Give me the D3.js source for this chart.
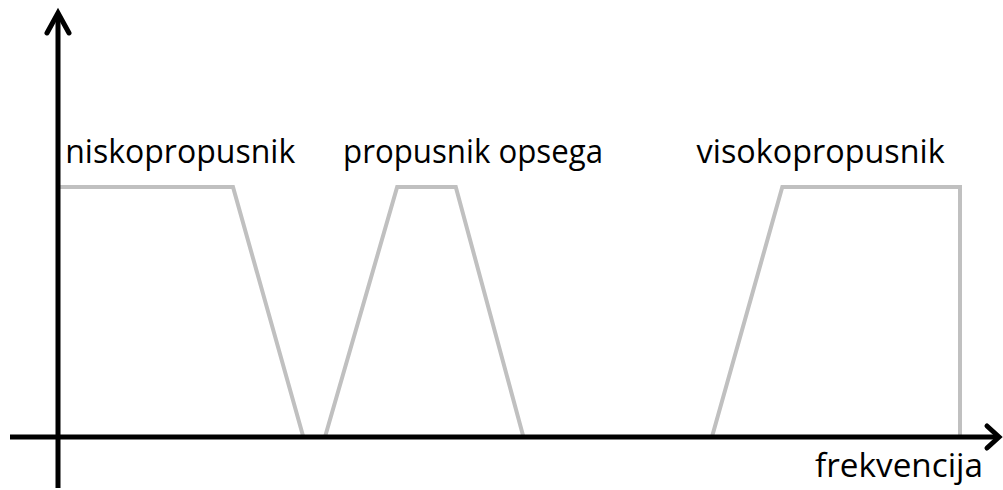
<!DOCTYPE html>
<html><head><meta charset="utf-8">
<script src="https://cdn.jsdelivr.net/npm/d3@7"></script>
<style>body{margin:0;background:#fff}svg{display:block}</style>
</head><body>
<svg id="c" width="1003" height="490"></svg>
<script>
// Filter responses (frequency in arbitrary units, gain 0..1)
const lowpassX = [0, 19.4, 27.2];
const lowpassY = [1, 1, 0];
const bandpassX = [29.6, 37.6, 44.1, 51.6];
const bandpassY = [0, 1, 1, 0];
const highpassX = [72.5, 80.3, 100, 100];
const highpassY = [0, 1, 1, 0];
const labels = ["niskopropusnik", "propusnik opsega", "visokopropusnik"];
const labelX = [0.8, 31.6, 70.8];
const labelWidths = [230, 260, 248];
const axisLabel = "frekvencija";

const svg = d3.select("#c");
const x = d3.scaleLinear().domain([0, 100]).range([58, 960]);
const y = d3.scaleLinear().domain([0, 1]).range([437, 187]);

const line = d3.line().x(d => x(d[0])).y(d => y(d[1]));
const series = [
  d3.zip(lowpassX, lowpassY),
  d3.zip(bandpassX, bandpassY),
  d3.zip(highpassX, highpassY)
];
svg.selectAll("path.resp").data(series).join("path")
  .attr("class", "resp")
  .attr("d", line)
  .attr("fill", "none")
  .attr("stroke", "#c0c0c0")
  .attr("stroke-width", 4)
  .attr("stroke-linejoin", "miter");

// axes
const g = svg.append("g").attr("stroke", "#000").attr("stroke-width", 5).attr("fill", "none");
g.append("line").attr("x1", x(0)).attr("x2", x(0)).attr("y1", 488).attr("y2", 13);
g.append("line").attr("x1", 10).attr("x2", 999).attr("y1", y(0)).attr("y2", y(0));
// arrowheads (open chevrons)
g.append("path").attr("d", `M${x(0)-11},${33} L${x(0)},${13} L${x(0)+11},${33}`)
  .attr("stroke-linejoin", "miter").attr("stroke-linecap", "round");
g.append("path").attr("d", `M${987},${y(0)-11} L${999},${y(0)} L${987},${y(0)+11}`)
  .attr("stroke-linejoin", "miter").attr("stroke-linecap", "round");

svg.selectAll("text.lbl").data(labels).join("text")
  .attr("class", "lbl")
  .attr("x", (d, i) => x(labelX[i]))
  .attr("y", 163)
  .attr("font-family", "Open Sans, sans-serif")
  .attr("font-size", 32)
  .attr("textLength", (d, i) => labelWidths[i])
  .attr("lengthAdjust", "spacingAndGlyphs")
  .attr("fill", "#000")
  .text(d => d);

svg.append("text")
  .attr("x", 815).attr("y", 477)
  .attr("font-family", "Open Sans, sans-serif")
  .attr("font-size", 32)
  .attr("textLength", 168)
  .attr("lengthAdjust", "spacingAndGlyphs")
  .attr("fill", "#000")
  .text(axisLabel);
</script>
</body></html>
